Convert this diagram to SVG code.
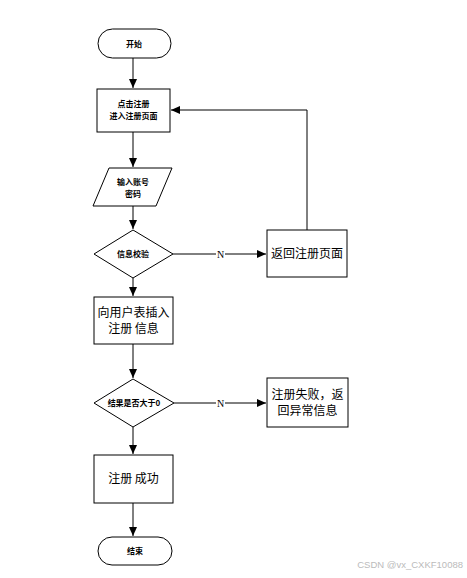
<svg xmlns="http://www.w3.org/2000/svg" width="467" height="578" viewBox="0 0 467 578">
<style>
.s{fill:#fff;stroke:#000;stroke-width:1}
.c{fill:none;stroke:#000;stroke-width:1}
.t{font-family:"Noto Sans CJK SC","Liberation Sans",sans-serif;fill:#000;text-anchor:middle}
.sm{font-size:8px;font-weight:bold}
.lg{font-size:12px}
.n{font-family:"Liberation Serif",serif;font-size:10px;text-anchor:middle;fill:#000}
</style>
<defs>
<marker id="a" markerWidth="10" markerHeight="10" refX="9" refY="5" orient="auto" markerUnits="userSpaceOnUse">
<path d="M0,1 L9,5 L0,9 Z" fill="#000"/>
</marker>
</defs>
<rect width="467" height="578" fill="#fff"/>
<g id="connectors">
<line class="c" x1="133" y1="58" x2="133" y2="88" marker-end="url(#a)"/>
<line class="c" x1="133" y1="132" x2="133" y2="167" marker-end="url(#a)"/>
<line class="c" x1="133" y1="206" x2="133" y2="229" marker-end="url(#a)"/>
<line class="c" x1="133" y1="278" x2="133" y2="296" marker-end="url(#a)"/>
<line class="c" x1="133" y1="344" x2="133" y2="378" marker-end="url(#a)"/>
<line class="c" x1="133" y1="427" x2="133" y2="454" marker-end="url(#a)"/>
<line class="c" x1="133" y1="503" x2="133" y2="536" marker-end="url(#a)"/>
<line class="c" x1="173" y1="254" x2="266" y2="254" marker-end="url(#a)"/>
<line class="c" x1="174" y1="403" x2="266" y2="403" marker-end="url(#a)"/>
<polyline class="c" points="307,230 307,110 171,110" marker-end="url(#a)"/>
<rect x="216" y="248" width="9" height="12" fill="#fff"/>
<text class="n" x="220.5" y="257.5">N</text>
<rect x="216" y="397" width="9" height="12" fill="#fff"/>
<text class="n" x="220.5" y="406.5">N</text>
</g>
<g id="start">
<rect class="s" x="98" y="29" width="73" height="29" rx="14.5"/>
<text class="t sm" x="134" y="46.5">开始</text>
</g>
<g id="click">
<rect class="s" x="97" y="89" width="73" height="43"/>
<text class="t sm" x="133.5" y="107">点击注册</text>
<text class="t sm" x="133.5" y="119">进入注册页面</text>
</g>
<g id="input">
<polygon class="s" points="109,168 172,168 156,206 93,206"/>
<text class="t sm" x="133" y="185">输入账号</text>
<text class="t sm" x="133" y="197">密码</text>
</g>
<g id="check">
<polygon class="s" points="133,230 173,254 133,278 94,254"/>
<text class="t sm" x="133" y="257">信息校验</text>
</g>
<g id="back">
<rect class="s" x="267" y="230" width="80" height="47"/>
<text class="t lg" x="307" y="258">返回注册页面</text>
</g>
<g id="insert">
<rect class="s" x="94" y="297" width="79" height="47"/>
<text class="t lg" x="133.5" y="317">向用户表插入</text>
<text class="t lg" x="133.5" y="333">注册 信息</text>
</g>
<g id="result">
<polygon class="s" points="133,379 174,403 133,427 94,403"/>
<text class="t sm" x="134" y="406">结果是否大于0</text>
</g>
<g id="fail">
<rect class="s" x="267" y="378" width="81" height="49"/>
<text class="t lg" x="307.5" y="399">注册失败，返</text>
<text class="t lg" x="307.5" y="415">回异常信息</text>
</g>
<g id="success">
<rect class="s" x="94" y="455" width="79" height="48"/>
<text class="t lg" x="133.5" y="483">注册 成功</text>
</g>
<g id="end">
<rect class="s" x="98" y="537" width="74" height="28" rx="14"/>
<text class="t sm" x="135" y="554">结束</text>
</g>
<text x="463" y="568" font-family="Liberation Sans,sans-serif" font-size="9.5" fill="#bbb" text-anchor="end">CSDN @vx_CXKF10088</text>
</svg>
